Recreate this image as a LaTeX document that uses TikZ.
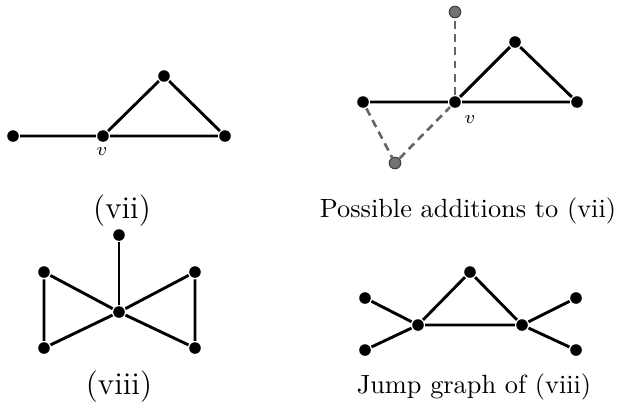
\documentclass[tikz,border=0pt]{standalone}
\begin{document}
\begin{tikzpicture}[x=0.38pt,y=-0.38pt,line width=1.1pt,
  vtx/.style={circle,fill=black,inner sep=0pt,minimum size=4.4pt},
  extra/.style={circle,fill=black!55,draw=black!75,line width=0.4pt,inner sep=0pt,minimum size=4.4pt},
  added/.style={dash pattern=on 3pt off 2pt,black!60,line width=1pt}]
\useasboundingbox (0,0) rectangle (620,412);
% (vii)
\node[vtx] (a1) at (13,136) {};
\node[vtx] (v1) at (103,136) {};
\node[vtx] (a2) at (164,76) {};
\node[vtx] (a3) at (225,136) {};
\node[font=\scriptsize] at (102,152) {$v$};
\draw (a1) -- (v1) -- (a3) -- (a2) -- (v1);
\node[font=\large] (c1) at (122,211) {(vii)};

% possible additions
\node[extra] (e1) at (455,12) {};
\node[extra] (e2) at (395,163) {};
\node[vtx] (b1) at (363,102) {};
\node[vtx] (v2) at (455,102) {};
\node[vtx] (b2) at (515,42) {};
\node[vtx] (b3) at (577,102) {};
\node[font=\scriptsize] at (470,120) {$v$};
\draw[added] (v2) -- (e1);
\draw[added] (b1) -- (e2) -- (v2);
\draw (b1) -- (v2) -- (b3) -- (b2) -- (v2);
\node (c2) at (468,211) {Possible additions to (vii)};

% (viii)
\node[vtx] (d0) at (119,235) {};
\node[vtx] (d1) at (44,272) {};
\node[vtx] (d2) at (44,348) {};
\node[vtx] (m) at (119,312) {};
\node[vtx] (d3) at (195,272) {};
\node[vtx] (d4) at (195,348) {};
\draw (d0) -- (m);
\draw (d1) -- (d2) -- (m) -- (d1);
\draw (d3) -- (d4) -- (m) -- (d3);
\node[font=\large] (c3) at (119,387) {(viii)};

% jump graph
\node[vtx] (j0) at (470,272) {};
\node[vtx] (jl) at (418,325) {};
\node[vtx] (jr) at (522,325) {};
\node[vtx] (j1) at (365,298) {};
\node[vtx] (j2) at (365,350) {};
\node[vtx] (j3) at (576,298) {};
\node[vtx] (j4) at (576,350) {};
\draw (jl) -- (j0) -- (jr) -- (jl);
\draw (j1) -- (jl) -- (j2);
\draw (j3) -- (jr) -- (j4);
\node (c4) at (474,387) {Jump graph of (viii)};
\end{tikzpicture}
\end{document}
